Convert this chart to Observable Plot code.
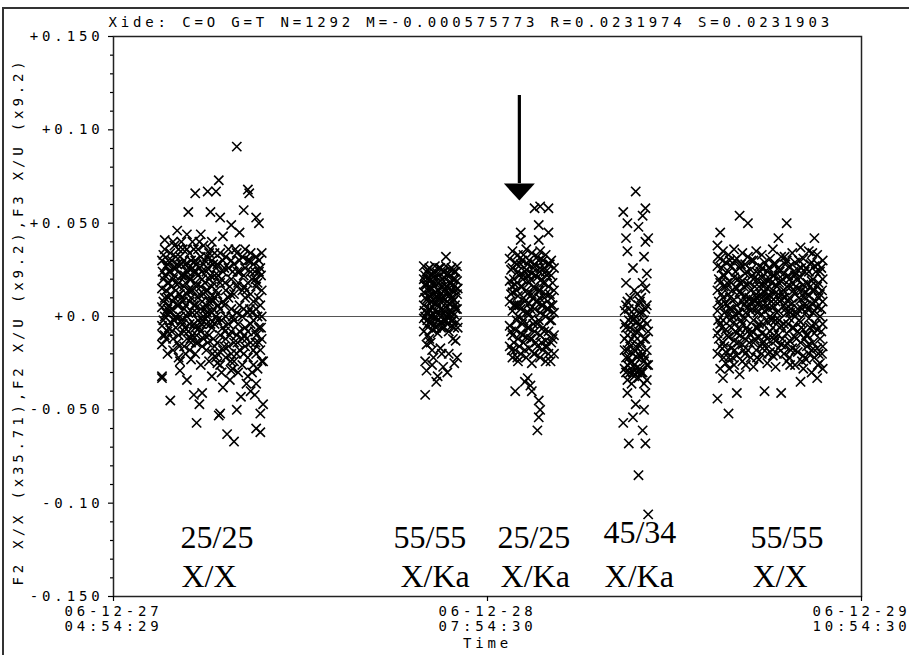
<!DOCTYPE html>
<html>
<head>
<meta charset="utf-8">
<script src="https://cdn.jsdelivr.net/npm/d3@7"></script>
<script src="https://cdn.jsdelivr.net/npm/@observablehq/plot@0.6"></script>
<style>
  html, body { margin: 0; padding: 0; background: #fff; overflow: hidden; }
  #wrap { position: relative; width: 909px; height: 655px; }
  #border { position: absolute; left: 2px; top: 7px; width: 920px; height: 700px;
            border-left: 2px solid #333; border-top: 2px solid #333; pointer-events: none; }
  svg g[font-family*="Serif"] { letter-spacing: 0px; }
</style>
</head>
<body>
<div id="wrap"><div id="border"></div></div>
<script>
// ---- axis definitions ----
const startTime = new Date(2006, 11, 27, 4, 54, 29);
const midTime   = new Date(2006, 11, 28, 7, 54, 30);
const endTime   = new Date(2006, 11, 29, 10, 54, 30);
const xTicks = [startTime, midTime, endTime];
const xTickLabels = ["06-12-27\n04:54:29", "06-12-28\n07:54:30", "06-12-29\n10:54:30"];
const yTicks = [-0.15, -0.10, -0.05, 0, 0.05, 0.10, 0.15];
const yTickLabels = ["-0.150", "-0.10", "-0.050", "+0.0", "+0.050", "+0.10", "+0.150"];
const yMinorTicks = [-0.14,-0.13,-0.12,-0.11,-0.09,-0.08,-0.07,-0.06,-0.04,-0.03,-0.02,-0.01,
                     0.01,0.02,0.03,0.04,0.06,0.07,0.08,0.09,0.11,0.12,0.13,0.14];

const titleText = "Xide: C=O G=T N=1292 M=-0.000575773 R=0.0231974 S=0.0231903";
const yAxisLabel = "F2 X/X (x35.71),F2 X/U (x9.2),F3 X/U (x9.2)";
const xAxisLabel = "Time";

// ---- residuals: [hours after start, [values in units of 0.001]] ----
const scan1 = [
  [3.5,[30,15,5,-5,-15,-32,-33]], [3.7,[41,22,10,0,-10,36]], [3.9,[28,18,4,-8,-20]],
  [4.1,[34,12,2,-3,24,-45]], [4.3,[40,20,8,-12,-18]], [4.5,[26,14,0,-6,32]], [4.6,[46]],
  [4.7,[36,18,6,-10,-22]], [4.8,[-29]], [4.9,[28,10,-2,22,40]], [5.1,[30,16,4,-8,-16]],
  [5.3,[24,12,0,-12,36,44,-34]], [5.4,[56]], [5.5,[34,20,8,-4,-18]], [5.6,[-23]],
  [5.7,[26,14,2,-10,40]], [5.8,[-42]], [5.9,[30,18,6,-6,-20,66]], [6.0,[-57]],
  [6.1,[22,10,-2,-14,36]], [6.2,[-47]], [6.3,[32,16,4,-8,-26,44]], [6.4,[-41]],
  [6.5,[28,12,0,-12,38]], [6.7,[24,14,6,-4,-18]], [6.8,[67]], [6.9,[34,20,8,-10,-24]],
  [7.0,[56]], [7.1,[30,16,2,-6,40,-32]], [7.3,[22,10,-4,-16,34]], [7.4,[67]],
  [7.5,[28,12,-2,-14,-20,-25]], [7.6,[73,-53]], [7.7,[34,18,4,-10,-26,53,-52]],
  [7.9,[24,8,-6,-18,30,43,-38]], [8.1,[32,14,0,-12,-22]], [8.2,[-63]],
  [8.3,[26,10,-4,-16,36]], [8.5,[20,4,-8,-20,30,49,-29]], [8.7,[28,12,-2,-14,-24,-67]],
  [8.8,[36]], [8.9,[34,16,2,-10,-20,91,-50]], [9.1,[24,6,-8,-18,30,45]], [9.2,[-43]],
  [9.3,[32,14,0,-12,-26]], [9.4,[57]], [9.5,[26,10,-6,-16,36]],
  [9.7,[30,18,2,-8,-22,68,-32]], [9.8,[66]], [9.9,[34,12,-4,-14,24,-40]],
  [10.1,[28,8,-2,-18,-26]], [10.3,[32,16,4,-10,-20,53,-60,-36]], [10.5,[24,10,-6,-14,30,50]],
  [10.6,[-62,-52]], [10.7,[34,14,0,-12,-24]], [10.8,[-47,-24]]
];
const scan1Core = [
  [3.6,[20,8,-2,33]], [3.8,[14,2,-12,27]], [4.0,[24,6,-6,18]], [4.2,[16,4,-8,30]],
  [4.4,[22,10,-2,38]], [4.6,[28,6,-14,17]], [4.8,[12,0,32,-24]], [5.0,[22,8,-4,36]],
  [5.2,[18,6,-20,28]], [5.4,[26,14,2,-8]], [5.6,[20,10,-14,30]], [5.8,[24,6,-4,36]],
  [6.0,[16,2,-10,28]], [6.2,[26,12,-6,40]], [6.4,[20,8,-2,-16]], [6.6,[30,18,4,-10]],
  [6.8,[14,0,-14,26]], [7.0,[22,10,-4,36]], [7.2,[18,4,-12,28]], [7.4,[26,14,0,-22]],
  [7.8,[20,-2,-30]], [8.0,[26,6,-16]], [8.4,[16,-10,-34]], [8.6,[24,0,-28]],
  [9.0,[18,-4,-30]], [9.4,[22,4,-20]], [9.6,[14,-12,-36]], [10.0,[20,2,-30]],
  [10.2,[24,-8,-42]], [10.4,[18,0,-28]], [10.6,[26,6,-18]],
  [3.55,[24,-10]], [3.95,[10,30]], [4.35,[-2,26]], [4.75,[12,-16]], [5.15,[22,-6]],
  [5.55,[14,-12]], [5.95,[-14,24]], [6.35,[24,-4]], [6.75,[2,32]], [7.15,[8,-20]],
  [7.55,[6,22]], [8.05,[-8,18]], [8.45,[12,-24]], [8.95,[24,-14]], [9.45,[-10,16]],
  [9.85,[4,30]], [10.25,[-14,20]], [10.65,[-6,22]]
];
const scan2 = [
  [22.4,[27,20,13,6,-1,-8]], [22.5,[-42,-24]], [22.6,[24,17,9,2,-5,-29,-15]],
  [22.8,[26,19,11,4,-3,-12]], [22.9,[-14]], [23.0,[22,15,8,0,-7,-18,-26]], [23.1,[-22]],
  [23.2,[27,18,10,3,-4]], [23.3,[-35]], [23.4,[23,14,6,-2,-9,-32]], [23.6,[26,19,12,4,-3,-17]],
  [23.7,[-20]], [23.8,[24,16,8,1,-6,-27]], [24.0,[32,27,20,12,5,-2]], [24.1,[-30]],
  [24.2,[23,15,7,-1,-8,-20]], [24.4,[26,18,10,3,-5]], [24.5,[-12]],
  [24.6,[24,16,9,1,-6,-25]], [24.7,[-13]], [24.8,[27,19,12,4,-3,-22]]
];
const scan2Core = [
  [22.5,[22,10,0]], [22.7,[25,14,2,-10]], [22.9,[20,8,-4]], [23.1,[24,12,1]],
  [23.3,[21,8,-6]], [23.5,[26,14,2]], [23.7,[20,10,-3]], [23.9,[24,14,3]],
  [24.1,[22,8,-4]], [24.3,[25,12,1]], [24.5,[20,8,-2]], [24.7,[24,14,4]],
  [22.45,[17,3]], [22.65,[20,-2]], [22.85,[15,0]], [23.05,[18,5]], [23.25,[13,-1]],
  [23.45,[18,10]], [23.65,[16,-6]], [23.85,[10,-2]], [24.05,[16,0]], [24.25,[18,3]],
  [24.45,[14,-2]], [24.65,[20,6]], [24.85,[15,-6]]
];
const scan3 = [
  [28.6,[31,19,8,-5,-16]], [28.8,[26,13,3,-10,-22,35]], [29.0,[29,17,6,-7,-18,-40]],
  [29.2,[24,11,0,-12,-24,33]], [29.4,[28,16,4,-9,-20,45,41]], [29.6,[33,22,10,-2,-14]],
  [29.7,[-35]], [29.8,[25,14,2,-11,-22,36]], [29.9,[-33]], [30.0,[30,18,7,-6,-17]],
  [30.1,[-37]], [30.2,[23,12,-1,-12,-25,34,-40]], [30.4,[28,15,4,-8,-20,58]],
  [30.6,[32,21,8,-4,-16,-61]], [30.7,[49,41,-45,-54]], [30.8,[26,14,2,-10,-22,35,59,-50]],
  [31.0,[30,18,6,-6,-18]], [31.2,[24,12,0,-13,-24,33]], [31.4,[28,16,4,-8,-20,58,45]],
  [31.6,[22,10,-2,-14,30]], [31.8,[26,14,2,-10,-20]]
];
const scan3Core = [
  [28.7,[25,12,-8]], [28.9,[20,6,-14]], [29.1,[28,14,-2]], [29.3,[22,6,-16]],
  [29.5,[30,16,-4]], [29.7,[24,8,-18]], [29.9,[28,12,-6]], [30.1,[20,4,-12]],
  [30.3,[26,10,-4]], [30.5,[22,8,-14]], [30.7,[30,14,-2]], [30.9,[20,6,-14]],
  [31.1,[26,10,-8]], [31.3,[22,4,-16]], [31.5,[28,12,-2]], [31.7,[18,6,-12]],
  [28.75,[16,-18]], [29.15,[6,-22]], [29.55,[20,-10]], [29.95,[2,22]], [30.35,[16,-20]],
  [30.75,[10,24]], [31.15,[-16,18]], [31.55,[6,-24]]
];
const scan4 = [
  [36.8,[56,-57]], [36.9,[3,-12,-28]], [37.0,[42,18,-6,-22]], [37.1,[50,35,8,-18,-34,-41]],
  [37.2,[-68,-2,-14]], [37.3,[10,-25,-30]], [37.4,[0,-36]], [37.5,[26,-20,-54]],
  [37.6,[4,-10,-26,-32]], [37.7,[67,-8,-47,-16]], [37.8,[12,-22,-3]], [37.9,[48,-33,-85,6]],
  [38.0,[2,-16,-28]], [38.1,[-30,-6,10]], [38.2,[54,18,-61,-20]], [38.3,[32,-24,-50,-2]],
  [38.4,[58,40,15,-41,-68,-12]], [38.5,[23,6,-18,-34]], [38.6,[42,-26,-106,-8]]
];
const scan4Core = [
  [36.9,[-18,-4]], [37.0,[-30,6]], [37.1,[-10,-26]], [37.2,[-22,4]], [37.3,[-6,-16]],
  [37.4,[-24,-12]], [37.5,[-2,-30]], [37.6,[-18,14]], [37.7,[-28,0]], [37.8,[-12,-30]],
  [37.9,[-20,-8]], [38.0,[-4,8]], [38.1,[-22,-14]], [38.2,[-30,2]], [38.3,[-12,-36]],
  [38.4,[-22,4]], [38.5,[-4,-26]]
];
const scan5 = [
  [43.6,[38,27,14,3,-9,-20,-44]], [43.8,[45,31,18,6,-4,-16,-28]], [44.0,[35,22,10,-2,-14,-33]],
  [44.2,[29,16,7,-7,-19,-25]], [44.4,[33,24,12,1,-11,-22,-52]], [44.6,[27,18,4,-6,-17]],
  [44.8,[36,21,9,-3,-13,-26]], [45.0,[31,15,6,-9,-21,-41]], [45.2,[54,26,13,2,-7,-31]],
  [45.4,[34,19,8,-4,-15,-24]], [45.6,[28,23,11,-1,-12,-20]], [45.8,[50,32,17,5,-8,-18]],
  [46.0,[25,14,3,-10,-22]], [46.2,[30,20,9,-2,-14,-27]], [46.4,[35,24,12,4,-6,-18]],
  [46.6,[27,16,7,-4,-11,-23]], [46.8,[33,21,10,1,-9,-20]], [47.0,[29,18,13,3,-16,-40]],
  [47.2,[24,15,6,-3,-12,-25]], [47.4,[31,20,11,0,-8,-19]], [47.6,[36,22,14,5,-6,-21]],
  [47.8,[28,17,8,-2,-13,-27]], [48.0,[42,26,12,3,-10,-17]], [48.2,[32,19,9,-5,-15,-41]],
  [48.4,[23,14,6,-4,-20]], [48.6,[50,30,16,2,-9,-24]], [48.8,[27,20,10,-1,-13,-22]],
  [49.0,[34,18,7,-6,-17]], [49.2,[29,22,12,0,-11,-26]], [49.4,[25,15,4,-8,-19]],
  [49.6,[37,21,9,-3,-14,-35]], [49.8,[31,17,6,-7,-21,-28]], [50.0,[26,13,2,-10,-23]],
  [50.2,[35,24,11,-1,-15,-20]], [50.4,[29,19,7,-5,-18,-30]], [50.6,[42,27,14,3,-9,-22]],
  [50.8,[33,16,5,-7,-17,-33]], [51.0,[24,12,0,-12,-25]], [51.2,[30,20,8,-4,-16,-28]]
];
const scan5Core = [
  [43.7,[20,8,-12]], [43.9,[26,12,-6]], [44.1,[22,2,-16]], [44.3,[18,6,-10]], [44.5,[30,10,-2]],
  [44.7,[14,0,-22]], [44.9,[24,16,-8]], [45.1,[20,2,-14]], [45.3,[28,12,-2]], [45.5,[16,6,-18]],
  [45.7,[24,8,-6]], [45.9,[18,10,-14]], [46.1,[22,4,-8]], [46.3,[16,8,-12]], [46.5,[20,2,-6]],
  [46.7,[24,12,-16]], [46.9,[16,6,-4]], [47.1,[20,10,-10]], [47.3,[26,4,-16]], [47.5,[18,8,-2]],
  [47.7,[22,12,-10]], [47.9,[16,2,-20]], [48.1,[24,8,-6]], [48.3,[20,12,-12]], [48.5,[28,4,-16]],
  [48.7,[22,8,-4]], [48.9,[16,4,-18]], [49.1,[24,14,-6]], [49.3,[20,2,-12]], [49.5,[30,10,-2]],
  [49.7,[14,4,-24]], [49.9,[24,10,-12]], [50.1,[18,4,-10]], [50.3,[28,16,-6]], [50.5,[20,2,-14]],
  [50.7,[24,8,-4]], [50.9,[18,10,-20]], [51.1,[26,4,-8]],
  [43.65,[32,-2]], [44.05,[16,-22]], [44.45,[4,-28]], [44.85,[30,-18]], [45.25,[18,-10]],
  [45.65,[2,-26]], [46.05,[30,8]], [46.45,[10,-22]], [46.85,[26,-14]], [47.25,[10,-20]],
  [47.65,[28,-12]], [48.05,[18,-2]], [48.45,[32,10]], [48.85,[2,-26]], [49.25,[16,-18]],
  [49.65,[26,-6]], [50.05,[6,-16]], [50.45,[34,14]], [50.85,[28,-26]], [51.15,[14,-20]]
];

// ---- annotations (data coordinates: hours after start, value) ----
const annotationHours  = [4.84, 4.91, 20.21, 20.72, 27.72, 27.94, 35.37, 35.45, 45.99, 46.13];
const annotationValues = [-0.1184, -0.1396, -0.1184, -0.1396, -0.1184, -0.1396, -0.1157, -0.1396, -0.1184, -0.1396];
const annotationTexts  = ["25/25", "X/X", "55/55", "X/Ka", "25/25", "X/Ka", "45/34", "X/Ka", "55/55", "X/X"];
const arrowHour = 29.3, arrowTop = 0.1184, arrowHeadTop = 0.0712;

// ---- build tables ----
const hourToDate = h => new Date(startTime.getTime() + h * 3600000);
const points = [scan1, scan1Core, scan2, scan2Core, scan3, scan3Core, scan4, scan4Core, scan5, scan5Core]
  .flatMap(scan => scan.flatMap(([h, vs]) => vs.map(v => ({time: hourToDate(h), value: v / 1000}))));
const annotations = annotationTexts.map((t, i) => ({time: hourToDate(annotationHours[i]), value: annotationValues[i], text: t}));
const arrow = [{time: hourToDate(arrowHour), top: arrowTop, headTop: arrowHeadTop}];
const xLabelOf = d => xTickLabels[xTicks.findIndex(t => t.getTime() === +d)];
const yLabelOf = d => yTickLabels[yTicks.findIndex(t => Math.abs(t - d) < 1e-9)];
const arrowHeadSymbol = {draw(ctx) { ctx.moveTo(-15.5, 0); ctx.lineTo(15.5, 0); ctx.lineTo(0, 17); ctx.closePath(); }};

const chart = Plot.plot({
  width: 909, height: 655,
  marginLeft: 113, marginRight: 48, marginTop: 36, marginBottom: 59,
  style: {fontFamily: "'DejaVu Sans Mono', 'Liberation Mono', monospace", fontSize: "14px",
          letterSpacing: "3.85px", color: "black", background: "transparent", overflow: "visible"},
  x: {type: "time", domain: [startTime, endTime], label: null},
  y: {domain: [-0.15, 0.15], label: null},
  marks: [
    Plot.ruleY([0], {stroke: "#555", strokeWidth: 1}),
    Plot.frame({stroke: "#222", strokeWidth: 1.5}),
    Plot.axisY(yMinorTicks, {tickSize: 3, tickFormat: () => "", strokeWidth: 1.2, label: null}),
    Plot.axisY(yTicks, {tickSize: 5, tickPadding: 5, tickFormat: yLabelOf, strokeWidth: 1.2, label: null}),
    Plot.axisX(xTicks, {tickSize: 5, tickPadding: 4, tickFormat: xLabelOf, strokeWidth: 1.2, lineHeight: 1.06, label: null}),
    Plot.dot(points, {x: "time", y: "value", symbol: "times", r: 4.3, stroke: "black", strokeWidth: 1.6}),
    Plot.ruleX(arrow, {x: "time", y1: "top", y2: "headTop", stroke: "black", strokeWidth: 3.2}),
    Plot.dot(arrow, {x: "time", y: "headTop", symbol: arrowHeadSymbol, fill: "black", stroke: "none", r: 5}),
    Plot.text(annotations, {x: "time", y: "value", text: "text", textAnchor: "start",
      fontFamily: "'Liberation Serif', 'Times New Roman', serif", fontSize: 32, fill: "black"}),
    Plot.text([titleText], {frameAnchor: "top-left", dx: -5, dy: -19, textAnchor: "start"}),
    Plot.text([yAxisLabel], {frameAnchor: "left", textAnchor: "middle", rotate: -90, dx: -95, dy: 5}),
    Plot.text([xAxisLabel], {frameAnchor: "bottom", dy: 51})
  ]
});
document.getElementById("wrap").prepend(chart);
</script>
</body>
</html>
